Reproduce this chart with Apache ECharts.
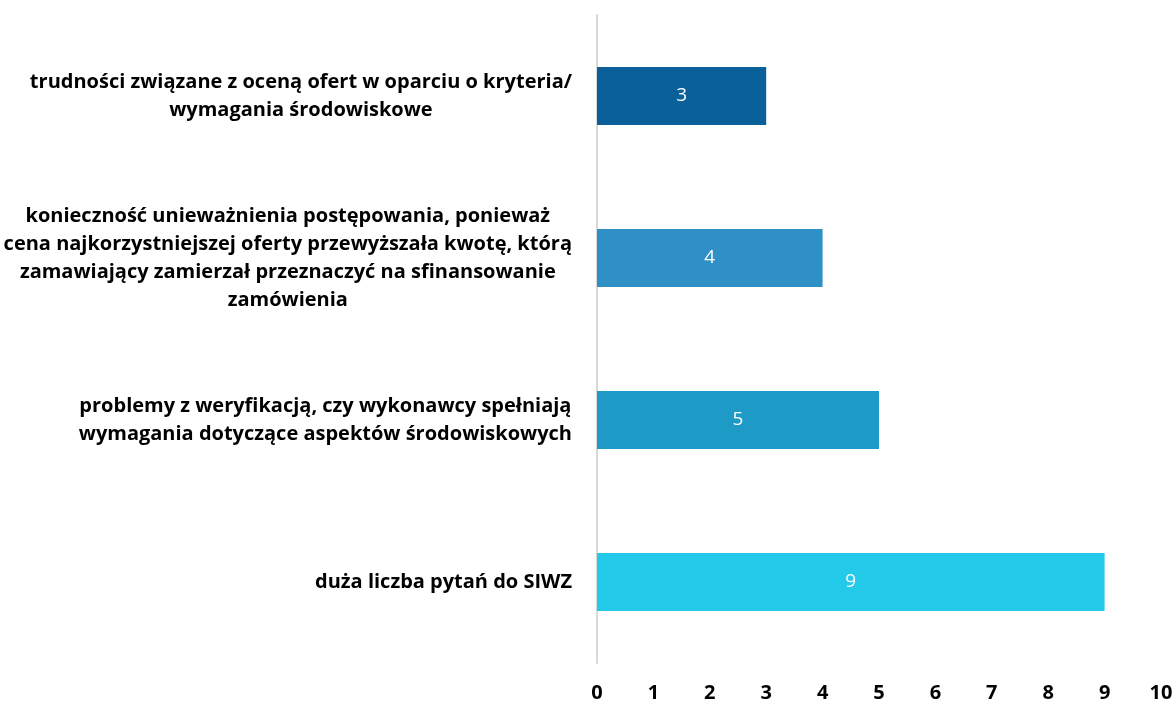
<!DOCTYPE html>
<html><head><meta charset="utf-8">
<script src="https://cdn.jsdelivr.net/npm/echarts@6/dist/echarts.min.js"></script>
<style>html,body{margin:0;padding:0;background:#fff}#c{width:1176px;height:703px}</style>
</head><body><div id="c"></div>
<script>
const categories = [
  "trudności związane z oceną ofert w oparciu o kryteria/\nwymagania środowiskowe",
  "konieczność unieważnienia postępowania, ponieważ\ncena najkorzystniejszej oferty przewyższała kwotę, którą\nzamawiający zamierzał przeznaczyć na sfinansowanie\nzamówienia",
  "problemy z weryfikacją, czy wykonawcy spełniają\nwymagania dotyczące aspektów środowiskowych",
  "duża liczba pytań do SIWZ"
];
const values = [3, 4, 5, 9];
const barColors = ["#0a6099", "#2e90c5", "#1d9ac6", "#22c9e8"];
const axisMin = 0, axisMax = 10, axisStep = 1;

const chart = echarts.init(document.getElementById('c'), null, {renderer: 'canvas'});
const font = "'Open Sans', sans-serif";
chart.setOption({
  animation: false,
  grid: {left: 597, right: 15, top: 15, bottom: 38, containLabel: false},
  xAxis: {
    type: 'value', min: axisMin, max: axisMax, interval: axisStep,
    axisLine: {show: false}, axisTick: {show: false}, splitLine: {show: false},
    axisLabel: {color: '#000', fontWeight: 'bold', fontSize: 20, fontFamily: font, margin: 20}
  },
  yAxis: {
    type: 'category', data: categories, inverse: true,
    axisLine: {show: true, lineStyle: {color: '#d9d9d9', width: 2}},
    axisTick: {show: false},
    axisLabel: {
      margin: 25, align: 'right',
      formatter: v => v.split('\n').map(s => '{c|' + s + '}').join('\n'),
      rich: {c: {align: 'center', color: '#000', fontWeight: 'bold', fontSize: 20, lineHeight: 28, fontFamily: font}}
    }
  },
  series: [{
    type: 'bar', barWidth: 58,
    data: values.map((v, i) => ({value: v, itemStyle: {color: barColors[i]}})),
    label: {show: true, position: 'inside', color: '#fff', fontSize: 19, fontFamily: font}
  }]
});
</script></body></html>
